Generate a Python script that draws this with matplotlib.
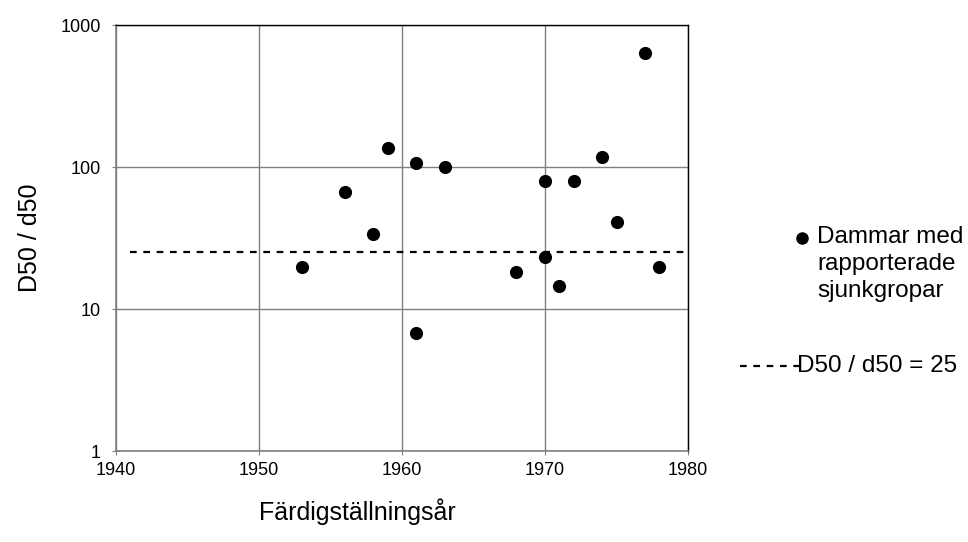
import matplotlib
matplotlib.use("Agg")
import matplotlib.pyplot as plt
from matplotlib.lines import Line2D
from matplotlib.ticker import FixedLocator, FixedFormatter

plt.rcParams["font.family"] = ["Liberation Sans", "DejaVu Sans"]

# ---- data ----
years = [1953, 1956, 1958, 1959, 1961, 1961, 1963, 1968, 1970, 1970, 1971, 1972, 1974, 1975, 1977, 1978]
ratio = [19.9, 67, 33.7, 135, 106, 6.75, 100, 18.1, 80, 23.3, 14.6, 80, 117, 40.8, 638, 19.9]
limit_years = [1941, 1979.7]
limit_value = 25
xticks = [1940, 1950, 1960, 1970, 1980]
yticks = [1, 10, 100, 1000]
ytick_labels = ["1", "10", "100", "1000"]

GRID = "#808080"

fig = plt.figure(figsize=(9.68, 5.42), dpi=100)
ax = fig.add_axes([116/968, 1-451/542, (688-116)/968, (451-25)/542])

ax.scatter(years, ratio, s=90, color="black", zorder=3, linewidths=0)
ax.plot(limit_years, [limit_value]*2, color="black", lw=1.6, ls=(0, (3, 3)), zorder=2)

ax.set_yscale("log")
ax.set_xlim(1940, 1980); ax.set_ylim(1, 1000)
ax.xaxis.set_major_locator(FixedLocator(xticks))
ax.yaxis.set_major_locator(FixedLocator(yticks))
ax.yaxis.set_major_formatter(FixedFormatter(ytick_labels))
ax.yaxis.set_minor_locator(FixedLocator([]))
ax.grid(True, color=GRID, lw=1.0)
ax.set_axisbelow(True)
for s in ["left", "bottom"]:
    ax.spines[s].set_color(GRID); ax.spines[s].set_linewidth(1.2)
for s in ["top", "right"]:
    ax.spines[s].set_color("black"); ax.spines[s].set_linewidth(1.0)
ax.tick_params(direction="inout", length=6, color=GRID, labelsize=13)
ax.tick_params(axis="x", pad=5)
ax.tick_params(axis="y", pad=8)

ax.set_xlabel("Färdigställningsår", fontsize=18)
ax.xaxis.set_label_coords((357-116)/(688-116), -0.11)
ax.set_ylabel("D50 / d50", fontsize=18)
ax.yaxis.set_label_coords(-(116-42)/(688-116), 0.5)

# ---- legend (drawn by hand, right of plot) ----
fig.add_artist(Line2D([802/968], [1-238/542], marker="o", ms=8, color="black", lw=0))
fig.text(817/968, 1-226/542, "Dammar med\nrapporterade\nsjunkgropar", fontsize=17.5,
         va="top", ha="left", linespacing=1.3)
fig.add_artist(Line2D([740/968, 800/968], [1-366/542]*2, color="black", lw=1.6, ls=(0, (3, 3))))
fig.text(797/968, 1-366/542, "D50 / d50 = 25", fontsize=17.5, va="center", ha="left")

plt.savefig("out.png", dpi=100)
